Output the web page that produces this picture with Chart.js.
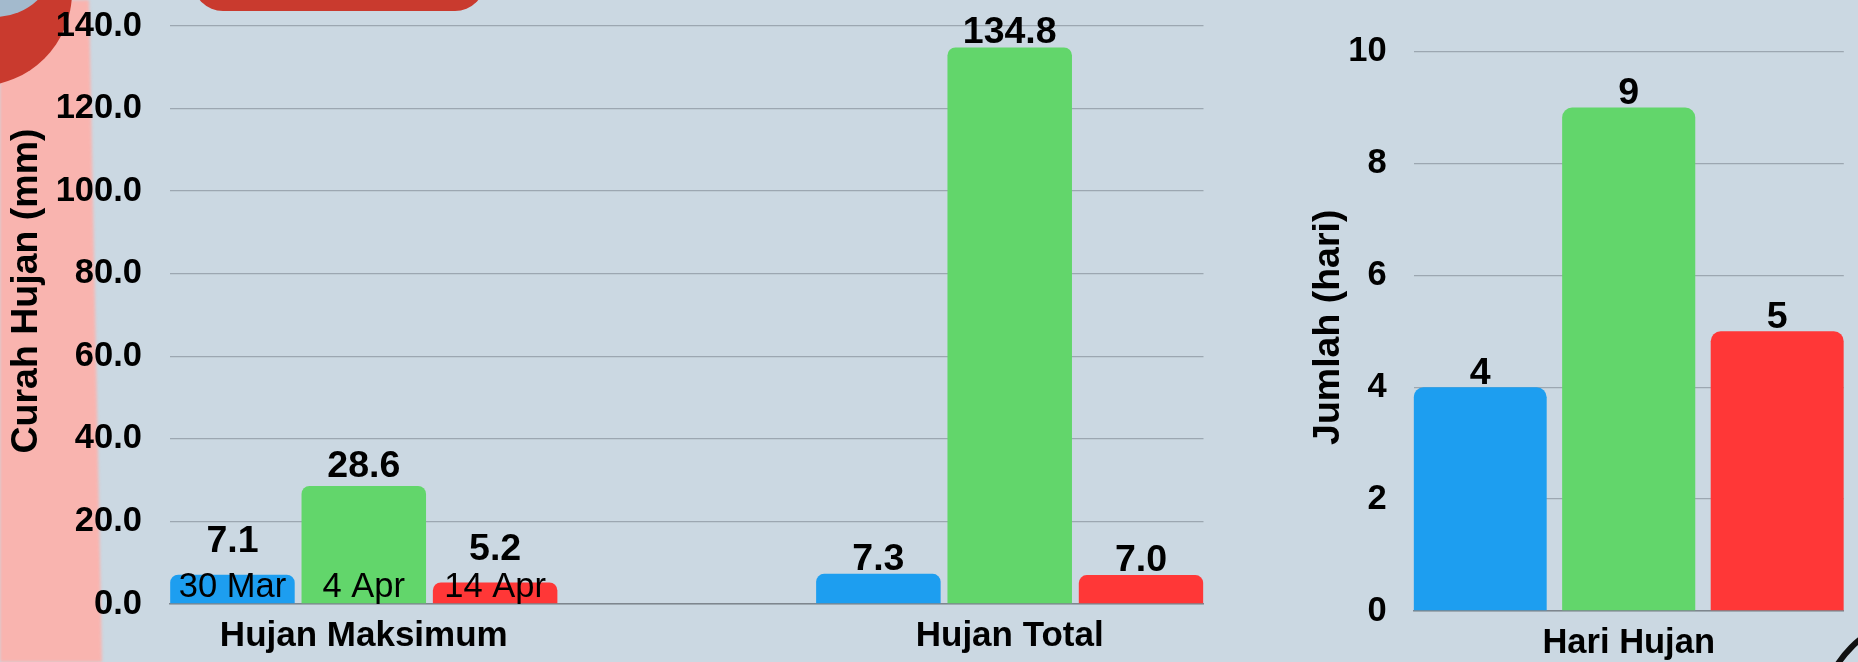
<!DOCTYPE html>
<html>
<head>
<meta charset="utf-8">
<script src="https://cdn.jsdelivr.net/npm/chart.js@4"></script>
<style>
html,body{margin:0;padding:0;width:1858px;height:662px;overflow:hidden;background:#cbd8e2;}
#stage{position:relative;width:1858px;height:662px;overflow:hidden;background:#cbd8e2;}
.deco{position:absolute;}
#bandWrap{left:0;top:0;width:130px;height:662px;filter:blur(1.5px);}
#band{position:absolute;left:0;top:0;width:130px;height:662px;background:#f9b4af;clip-path:polygon(0 0,89px 0,102px 662px,0 662px);}
#redCircle{left:-116px;top:-102px;width:188px;height:188px;border-radius:50%;background:#c93a2e;}
#blueCircle{left:-67px;top:-107px;width:124px;height:124px;border-radius:50%;background:#a3bacd;}
#pill{left:193px;top:-60px;width:292px;height:71px;border-radius:30px;background:#c93a2e;}
#arc{left:1819px;top:615px;width:206px;height:206px;border-radius:50%;border:6px solid #111;box-sizing:border-box;}
#leftWrap{position:absolute;left:0;top:0;width:1230px;height:662px;}
#rightWrap{position:absolute;left:1240px;top:0;width:618px;height:662px;}
</style>
</head>
<body>
<div id="stage">
  <div class="deco" id="bandWrap"><div id="band"></div></div>
  <div class="deco" id="redCircle"></div>
  <div class="deco" id="blueCircle"></div>
  <div class="deco" id="pill"></div>
  <div class="deco" id="arc"></div>
  <div id="leftWrap"><canvas id="rainChart"></canvas></div>
  <div id="rightWrap"><canvas id="dayChart"></canvas></div>
</div>
<script>
// ---------- DATA ----------
const categories = ['Hujan Maksimum', 'Hujan Total'];
const seriesNames = ['Periode 1', 'Periode 2', 'Periode 3'];
const periode1Rain = [7.1, 7.3];
const periode2Rain = [28.6, 134.8];
const periode3Rain = [5.2, 7.0];
const maxDates = ['30 Mar', '4 Apr', '14 Apr'];
const rainTicks = [0, 20, 40, 60, 80, 100, 120, 140];

const dayCategories = ['Hari Hujan'];
const periode1Days = [4];
const periode2Days = [9];
const periode3Days = [5];
const dayTicks = [0, 2, 4, 6, 8, 10];

const rainTitle = 'Curah Hujan (mm)';
const dayTitle = 'Jumlah (hari)';

// ---------- STYLE ----------
const FAMILY = "'Liberation Sans', Arial, sans-serif";
const colors = ['#1d9ef0', '#62d66b', '#ff3737'];
const gridColor = '#9ca7b1';
const baseColor = '#7e868e';

// value labels + date labels + rotated axis titles
const labelPlugin = {
  id: 'labelPlugin',
  afterDraw(chart, args, opts) {
    const ctx = chart.ctx;
    const area = chart.chartArea;
    ctx.save();
    ctx.fillStyle = '#000';
    ctx.textAlign = 'center';
    ctx.textBaseline = 'alphabetic';
    chart.data.datasets.forEach((ds, di) => {
      const meta = chart.getDatasetMeta(di);
      meta.data.forEach((bar, j) => {
        const raw = ds.data[j];
        const v = (typeof raw === 'object') ? raw.y : raw;
        const txt = opts.decimals ? v.toFixed(opts.decimals) : String(v);
        const h = bar.base - bar.y;
        let off = opts.valueOffset;
        if (opts.dates && j === opts.dateCategory) {
          off = h < 40 ? 23 : 9;
          ctx.font = '400 34.5px ' + FAMILY;
          ctx.fillText(opts.dates[di], bar.x, bar.base - 6);
        }
        ctx.font = 'bold 37.5px ' + FAMILY;
        ctx.fillText(txt, bar.x, bar.y - off);
      });
    });
    // rotated axis title
    ctx.font = 'bold 37.5px ' + FAMILY;
    ctx.textBaseline = 'middle';
    ctx.translate(opts.titleX, (area.top + area.bottom) / 2 + opts.titleShift);
    ctx.rotate(-Math.PI / 2);
    ctx.fillText(opts.title, 0, 0);
    ctx.restore();
  }
};

// ---------- LEFT CHART ----------
const rainSeries = [periode1Rain, periode2Rain, periode3Rain];
new Chart(document.getElementById('rainChart'), {
  type: 'bar',
  data: {
    datasets: rainSeries.map((arr, i) => ({
      label: seriesNames[i],
      data: arr.map((v, k) => ({ x: k, y: v })),
      backgroundColor: colors[i],
      borderWidth: 0,
      borderRadius: 8,
      borderSkipped: 'start',
      categoryPercentage: 0.61,
      barPercentage: 0.948
    }))
  },
  options: {
    responsive: true,
    maintainAspectRatio: false,
    animation: false,
    devicePixelRatio: 1,
    layout: { padding: { left: 0, right: 26.5, top: 26, bottom: 0 } },
    plugins: {
      legend: { display: false },
      tooltip: { enabled: false },
      labelPlugin: { decimals: 1, valueOffset: 4, dates: maxDates, dateCategory: 0,
                     title: rainTitle, titleX: 26.5, titleShift: -24 }
    },
    scales: {
      x: {
        type: 'linear', min: -0.3, max: 1.3, offset: false,
        afterBuildTicks: s => { s.ticks = categories.map((c, i) => ({ value: i })); },
        afterFit: s => { s.height = 58; },
        ticks: {
          callback: v => categories[v] !== undefined ? categories[v] : '',
          font: { family: FAMILY, size: 35, weight: 'bold' },
          color: '#000', padding: 11, autoSkip: false, maxRotation: 0
        },
        grid: { display: false, drawTicks: false },
        border: { display: true, color: baseColor, width: 1.5 }
      },
      y: {
        min: 0, max: 140,
        afterBuildTicks: s => { s.ticks = rainTicks.map(v => ({ value: v })); },
        afterFit: s => { s.width = 170; },
        ticks: {
          callback: v => Number(v).toFixed(1),
          font: { family: FAMILY, size: 34.5, weight: 'bold' },
          color: '#000', padding: 0
        },
        grid: { color: gridColor, lineWidth: 1.3, drawTicks: true, tickLength: 28, tickColor: 'rgba(0,0,0,0)' },
        border: { display: false }
      }
    }
  },
  plugins: [labelPlugin]
});

// ---------- RIGHT CHART ----------
const daySeries = [periode1Days, periode2Days, periode3Days];
new Chart(document.getElementById('dayChart'), {
  type: 'bar',
  data: {
    labels: dayCategories,
    datasets: daySeries.map((arr, i) => ({
      label: seriesNames[i],
      data: arr,
      backgroundColor: colors[i],
      borderWidth: 0,
      borderRadius: 10,
      borderSkipped: 'start',
      categoryPercentage: 1.036,
      barPercentage: 0.896
    }))
  },
  options: {
    responsive: true,
    maintainAspectRatio: false,
    animation: false,
    devicePixelRatio: 1,
    layout: { padding: { left: 0, right: 14.2, top: 51.5, bottom: 0 } },
    plugins: {
      legend: { display: false },
      tooltip: { enabled: false },
      labelPlugin: { decimals: 0, valueOffset: 3, title: dayTitle, titleX: 89, titleShift: -4 }
    },
    scales: {
      x: {
        offset: true,
        afterFit: s => { s.height = 51; },
        ticks: {
          font: { family: FAMILY, size: 34.5, weight: 'bold' },
          color: '#000', padding: 12, maxRotation: 0
        },
        grid: { display: false, drawTicks: false },
        border: { display: true, color: baseColor, width: 1.5 }
      },
      y: {
        min: 0, max: 10,
        afterBuildTicks: s => { s.ticks = dayTicks.map(v => ({ value: v })); },
        afterFit: s => { s.width = 173.6; },
        ticks: {
          callback: v => String(v),
          font: { family: FAMILY, size: 34.5, weight: 'bold' },
          color: '#000', padding: 0
        },
        grid: { color: gridColor, lineWidth: 1.3, drawTicks: true, tickLength: 27, tickColor: 'rgba(0,0,0,0)' },
        border: { display: false }
      }
    }
  },
  plugins: [labelPlugin]
});
</script>
</body>
</html>
